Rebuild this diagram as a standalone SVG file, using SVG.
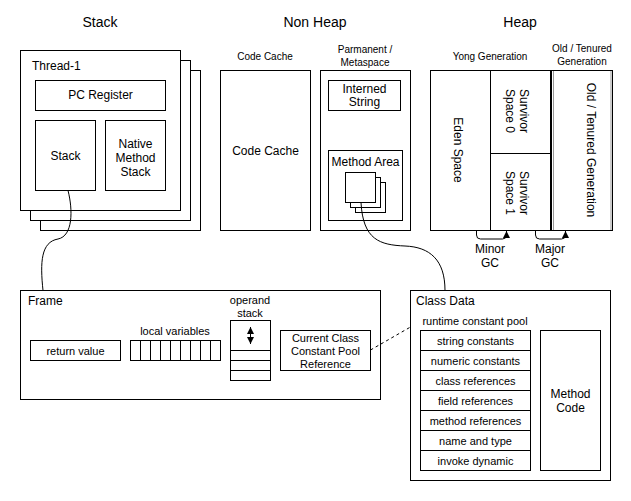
<svg xmlns="http://www.w3.org/2000/svg" width="631" height="501" viewBox="0 0 631 501">
<defs>
<style>
text{font-family:"Liberation Sans",Arial,sans-serif;fill:#000}
.t14{font-size:14px;text-anchor:middle}
.t12{font-size:12px}
.t11{font-size:11px}
.t10{font-size:10px;text-anchor:middle}
.m{text-anchor:middle}
.b{fill:#fff;stroke:#000;stroke-width:1}
.c{fill:none;stroke:#000;stroke-width:1}
</style>
<marker id="arr" viewBox="0 0 10 10" refX="10" refY="5" markerWidth="7" markerHeight="7" orient="auto-start-reverse" markerUnits="userSpaceOnUse"><path d="M0,0 L10,5 L0,10 z" fill="#000"/></marker>
</defs>
<rect width="631" height="501" fill="#fff"/>

<g id="titles">
<text class="t14" x="100" y="27">Stack</text>
<text class="t14" x="315" y="27">Non Heap</text>
<text class="t14" x="520" y="27">Heap</text>
</g>

<g id="thread">
<rect class="b" x="40.5" y="70.5" width="160" height="160"/>
<rect class="b" x="30.5" y="60.5" width="160" height="160"/>
<rect class="b" x="20.5" y="50.5" width="160" height="160"/>
<text class="t12" x="32" y="70">Thread-1</text>
</g>
<g id="pc-register">
<rect class="b" x="35.5" y="80.5" width="130" height="30"/>
<text class="t12 m" x="100.5" y="99">PC Register</text>
</g>
<g id="stack">
<rect class="b" x="35.5" y="120.5" width="60" height="70"/>
<text class="t12 m" x="65.5" y="160">Stack</text>
</g>
<g id="native-method-stack">
<rect class="b" x="105.5" y="120.5" width="60" height="70"/>
<text class="t12 m" x="135.5" y="148">Native</text>
<text class="t12 m" x="135.5" y="162">Method</text>
<text class="t12 m" x="135.5" y="176">Stack</text>
</g>

<g id="code-cache">
<text class="t10" x="265" y="60">Code Cache</text>
<rect class="b" x="220.5" y="70.5" width="90" height="160"/>
<text class="t12 m" x="265.5" y="155">Code Cache</text>
</g>
<g id="metaspace">
<text class="t10" x="365" y="53">Parmanent /</text>
<text class="t10" x="365" y="66">Metaspace</text>
<rect class="b" x="320.5" y="70.5" width="90" height="160"/>
</g>
<g id="interned-string">
<rect class="b" x="328.5" y="80.5" width="72" height="30"/>
<text class="t12 m" x="364.5" y="93">Interned</text>
<text class="t12 m" x="364.5" y="106">String</text>
</g>
<g id="method-area">
<rect class="b" x="328.5" y="150.5" width="74" height="70"/>
<text class="t12 m" x="365.5" y="166">Method Area</text>
<rect class="b" x="355.5" y="182.5" width="30" height="30"/>
<rect class="b" x="350.5" y="177.5" width="30" height="30"/>
<rect class="b" x="345.5" y="172.5" width="30" height="30"/>
</g>

<g id="young-generation">
<text class="t10" x="490" y="60">Yong Generation</text>
<rect class="b" x="430.5" y="70.5" width="120" height="160"/>
</g>
<g id="eden-space">
<line class="c" x1="490.5" y1="70.5" x2="490.5" y2="230.5"/>
<text class="t12 m" transform="translate(458,150) rotate(90)" y="4">Eden Space</text>
</g>
<g id="survivor-0">
<line class="c" x1="490.5" y1="153.5" x2="550.5" y2="153.5"/>
<text class="t12 m" transform="translate(518,111) rotate(90)" y="-2">Survivor</text>
<text class="t12 m" transform="translate(518,111) rotate(90)" y="12">Space 0</text>
</g>
<g id="survivor-1">
<text class="t12 m" transform="translate(518,193) rotate(90)" y="-2">Survivor</text>
<text class="t12 m" transform="translate(518,193) rotate(90)" y="12">Space 1</text>
</g>
<g id="old-generation">
<text class="t10" x="582" y="52">Old / Tenured</text>
<text class="t10" x="582" y="65">Generation</text>
<rect class="b" x="551.5" y="70.5" width="61" height="160"/>
<line x1="553.5" y1="71" x2="553.5" y2="230" stroke="#999" stroke-width="1"/>
<line x1="611" y1="71" x2="611" y2="230" stroke="#999" stroke-width="1"/>
<text class="t12 m" transform="translate(583,150) rotate(90)" y="-4">Old / Tenured Generation</text>
</g>

<g id="frame">
<rect class="b" x="20.5" y="290.5" width="360" height="109"/>
<text class="t12" x="28" y="305">Frame</text>
</g>
<g id="return-value">
<rect class="b" x="30.5" y="340.5" width="90" height="20"/>
<text class="t11 m" x="75.5" y="355">return value</text>
</g>
<g id="local-variables">
<text class="t11 m" x="175" y="335">local variables</text>
<rect class="b" x="130.5" y="340.5" width="90" height="20"/>
<path class="c" d="M140.5,340.5V360.5M150.5,340.5V360.5M160.5,340.5V360.5M170.5,340.5V360.5M180.5,340.5V360.5M190.5,340.5V360.5M200.5,340.5V360.5M210.5,340.5V360.5"/>
</g>
<g id="operand-stack">
<text class="t11 m" x="250" y="304">operand</text>
<text class="t11 m" x="250" y="317">stack</text>
<rect class="b" x="230.5" y="320.5" width="40" height="60"/>
<path class="c" d="M230.5,350.5H270.5M230.5,360.5H270.5M230.5,370.5H270.5"/>
<line class="c" x1="250.5" y1="327" x2="250.5" y2="344" stroke-width="1.5" marker-start="url(#arr)" marker-end="url(#arr)"/>
</g>
<g id="current-class-ref">
<rect class="b" x="280.5" y="330.5" width="90" height="40"/>
<text class="t11 m" x="325.5" y="342">Current Class</text>
<text class="t11 m" x="325.5" y="355">Constant Pool</text>
<text class="t11 m" x="325.5" y="368">Reference</text>
</g>

<g id="class-data">
<rect class="b" x="410.5" y="290.5" width="200" height="190"/>
<text class="t12" x="416" y="305">Class Data</text>
<text class="t11 m" x="475" y="325">runtime constant pool</text>
</g>
<g id="runtime-constant-pool">
<rect class="b" x="420.5" y="330.5" width="110" height="140"/>
<path class="c" d="M420.5,350.5H530.5M420.5,370.5H530.5M420.5,390.5H530.5M420.5,410.5H530.5M420.5,430.5H530.5M420.5,450.5H530.5"/>
<text class="t11 m" x="475.5" y="345">string constants</text>
<text class="t11 m" x="475.5" y="365">numeric constants</text>
<text class="t11 m" x="475.5" y="385">class references</text>
<text class="t11 m" x="475.5" y="405">field references</text>
<text class="t11 m" x="475.5" y="425">method references</text>
<text class="t11 m" x="475.5" y="445">name and type</text>
<text class="t11 m" x="475.5" y="465">invoke dynamic</text>
</g>
<g id="method-code">
<rect class="b" x="540.5" y="330.5" width="60" height="140"/>
<text class="t12 m" x="570.5" y="398">Method</text>
<text class="t12 m" x="570.5" y="412">Code</text>
</g>

<g id="gc-labels">
<text class="t12 m" x="490" y="253">Minor</text>
<text class="t12 m" x="490" y="267">GC</text>
<text class="t12 m" x="550" y="253">Major</text>
<text class="t12 m" x="550" y="267">GC</text>
</g>

<g id="connectors">
<path class="c" d="M68,190.5 C73,210 73,236 58,239 C41,242 40,262 43,290.5"/>
<path class="c" d="M361,202.5 C363,240 380,245 405,246 C430,247 445,260 445,290.5"/>
<path class="c" d="M370.5,350 L410.5,327" stroke-dasharray="3,3"/>
<path class="c" d="M476.5,230.5 V235 Q476.5,239 480.5,239 H502.5 Q506.5,239 506.5,235 V231" marker-end="url(#arr)"/>
<path class="c" d="M535.5,230.5 V235 Q535.5,239 539.5,239 H561.5 Q565.5,239 565.5,235 V231" marker-end="url(#arr)"/>
</g>
</svg>
